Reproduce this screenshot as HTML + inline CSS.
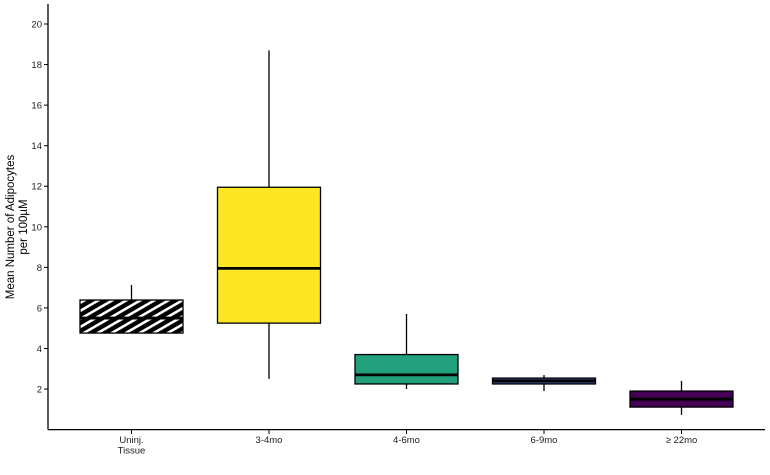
<!DOCTYPE html>
<html><head><meta charset="utf-8"><style>
body{margin:0;background:#fff}
svg{display:block;font-family:"Liberation Sans",sans-serif}
</style></head><body>
<svg id="chart" width="770" height="475">
<defs>
<pattern id="hatch" patternUnits="userSpaceOnUse" width="7" height="10" patternTransform="rotate(60)">
<rect width="7" height="10" fill="#000"/>
<rect x="0" y="0" width="2.6" height="10" fill="#fff"/>
</pattern>
</defs>
<g id="plot"></g>
</svg>
<script>
const categories=["Uninj.\nTissue","3-4mo","4-6mo","6-9mo","\u2265 22mo"];
const whiskerHigh=[7.13,18.7,5.7,2.69,2.4];
const q3=[6.39,11.95,3.7,2.54,1.9];
const median=[5.5,7.95,2.7,2.4,1.5];
const q1=[4.76,5.25,2.25,2.25,1.11];
const whiskerLow=[4.76,2.5,2.0,1.9,0.72];
const fills=["url(#hatch)","#fde725","#22a07c","#3b528b","#440154"];
const yTicks=[2,4,6,8,10,12,14,16,18,20];
const NS="http://www.w3.org/2000/svg";
const g=document.getElementById('plot');
const X0=48,X1=765,Y0=429.6,PPU=20.28;
const y=v=>Y0-v*PPU;
const step=137.5,first=131.5,bw=103;
const x=i=>first+i*step;
function mk(t,a,p){const e=document.createElementNS(NS,t);for(const k in a)e.setAttribute(k,a[k]);(p||g).appendChild(e);return e;}
let e;
e=mk('line',{x1:X0,y1:4,x2:X0,y2:429.6,stroke:'#000','stroke-width':1.3});


e=mk('line',{x1:X0,y1:429.6,x2:X1,y2:429.6,stroke:'#000','stroke-width':1.3});


yTicks.forEach(v=>{
 e=mk('line',{x1:X0-4,y1:y(v),x2:X0,y2:y(v),stroke:'#000'});
 
 
 e=mk('text',{x:X0-6,y:y(v)+3.5,'text-anchor':'end','font-size':9.5,fill:'#222'});
 e.textContent=v;
 
 
});
categories.forEach((c,i)=>{
 const cx=x(i);
 e=mk('line',{x1:cx,y1:429.6,x2:cx,y2:434,stroke:'#000'});
 
 
 const t=mk('text',{x:cx,y:443,'text-anchor':'middle','font-size':9.5,fill:'#222'});
 
 
 c.split('\n').forEach((l,j)=>{const s=mk('tspan',{x:cx,dy:j?10.5:0},t);s.textContent=l;});
 e=mk('line',{x1:cx,y1:y(whiskerHigh[i]),x2:cx,y2:y(whiskerLow[i]),stroke:'#000','stroke-width':1.3});
 
 
 e=mk('rect',{x:cx-bw/2,y:y(q3[i]),width:bw,height:y(q1[i])-y(q3[i]),fill:fills[i],stroke:'#000','stroke-width':1.3});
 
 
 e=mk('line',{x1:cx-bw/2,y1:y(median[i]),x2:cx+bw/2,y2:y(median[i]),stroke:'#000','stroke-width':2.8});
 
 
});
e=mk('text',{'text-anchor':'middle','font-size':11.5,fill:'#000',transform:'translate(14,227) rotate(-90)'});


[["Mean Number of Adipocytes",0],["per 100\u00b5M",13]].forEach(([l,d])=>{const s=mk('tspan',{x:0,dy:d},e);s.textContent=l;});
</script>
</body></html>
